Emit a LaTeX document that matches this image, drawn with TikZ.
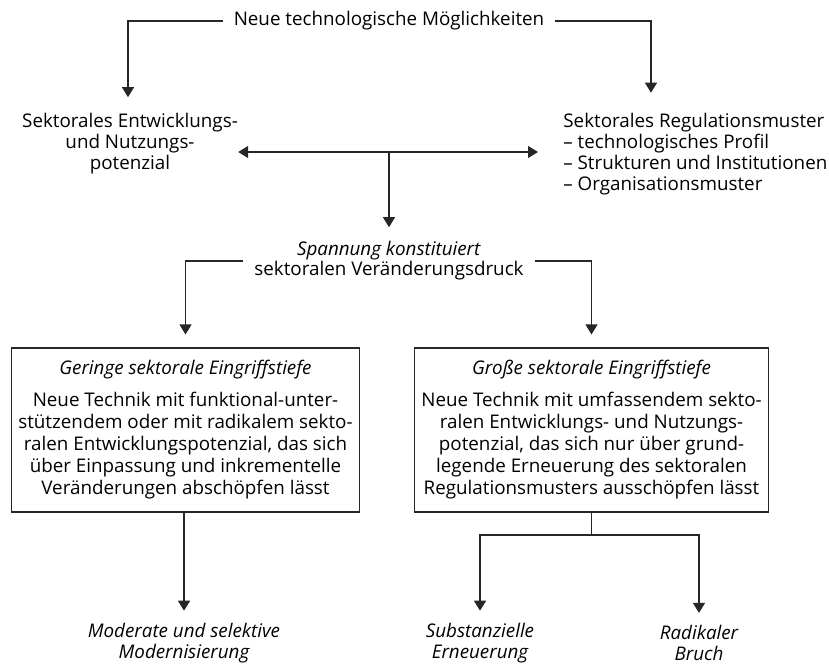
\documentclass[tikz,border=0pt]{standalone}
\usepackage{fontspec}
\setmainfont{Open Sans}
\usetikzlibrary{arrows.meta}

\tikzset{
	txt/.style={font=\fontsize{9.4}{10.5}\selectfont, align=center, inner sep=0pt},
	kasten/.style={draw=black!85, line width=0.55pt, minimum width=172pt, minimum height=82pt, font=\fontsize{9.4}{11}\selectfont, align=center},
	spitze/.tip={Triangle[length=5pt,width=6pt]},
	pfeil/.style={-spitze, line width=0.55pt, draw=black!85},
}

\begin{document}
\begin{tikzpicture}[x=0.5pt, y=-0.5pt]
	\useasboundingbox (0,0) rectangle (829,664);
	% obere Ebene
	\node[txt, inner xsep=5pt] (tech) at (389,21) {Neue technologische Möglichkeiten};
	\node[txt] (entw) at (130,144) {Sektorales Entwicklungs-\\und Nutzungs-\\potenzial};
	\node[txt, align=left, anchor=west] (regul) at (563,154) {Sektorales Regulationsmuster\\– technologisches Profil\\– Strukturen und Institutionen\\– Organisationsmuster};
	\coordinate (split) at (389,152);
	\draw[pfeil, shorten >=8pt] (tech.west) -| ([xshift=-1pt]entw.north);
	\draw[pfeil, shorten >=10pt] (tech.east) -| (regul.north -| 651,0);
	\draw[pfeil, spitze-spitze, shorten >=12.5pt] (entw.east |- split) -- (regul.west |- split);
	% Spannung
	\node[txt, font=\fontsize{9.4}{10}\selectfont, inner xsep=5.5pt] (spann) at (389,261) {\textit{Spannung konstituiert}\\sektoralen Veränderungsdruck};
	\draw[pfeil, shorten >=7pt] (split) -- (spann.north);
	% Kaesten
	\node[kasten] (geringe) at (185.5,430) {\textit{Geringe sektorale Eingriffstiefe}\\[5pt]Neue Technik mit funktional-unter-\\stützendem oder mit radikalem sekto-\\ralen Entwicklungspotenzial, das sich\\über Einpassung und inkrementelle\\Veränderungen abschöpfen lässt};
	\node[kasten] (grosse) at (591.5,430) {\textit{Große sektorale Eingriffstiefe}\\[5pt]Neue Technik mit umfassendem sekto-\\ralen Entwicklungs- und Nutzungs-\\potenzial, das sich nur über grund-\\legende Erneuerung des sektoralen\\Regulationsmusters ausschöpfen lässt};
	\draw[pfeil, shorten >=6.5pt] (spann.west) -| (geringe.north);
	\draw[pfeil, shorten >=6.5pt] (spann.east) -| (grosse.north);
	% Ergebnisse
	\node[txt, font=\fontsize{9.4}{10.5}\selectfont\itshape] (moder) at (184,643) {Moderate und selektive\\Modernisierung};
	\node[txt, font=\fontsize{9.4}{10.5}\selectfont\itshape] (subst) at (480,643) {Substanzielle\\Erneuerung};
	\node[txt, font=\fontsize{9.4}{10.5}\selectfont\itshape] (radik) at (699,643) {Radikaler\\Bruch};
	\coordinate (gabel) at (591.5,535);
	\draw[pfeil, shorten >=6pt] (geringe.south -| moder.north) -- (moder.north);
	\draw[line width=0.55pt, black!85] (grosse.south) -- (gabel);
	\draw[pfeil, shorten >=6pt] (gabel) -| (subst.north);
	\draw[pfeil, shorten >=6pt] (gabel) -| (radik.north);
\end{tikzpicture}
\end{document}
